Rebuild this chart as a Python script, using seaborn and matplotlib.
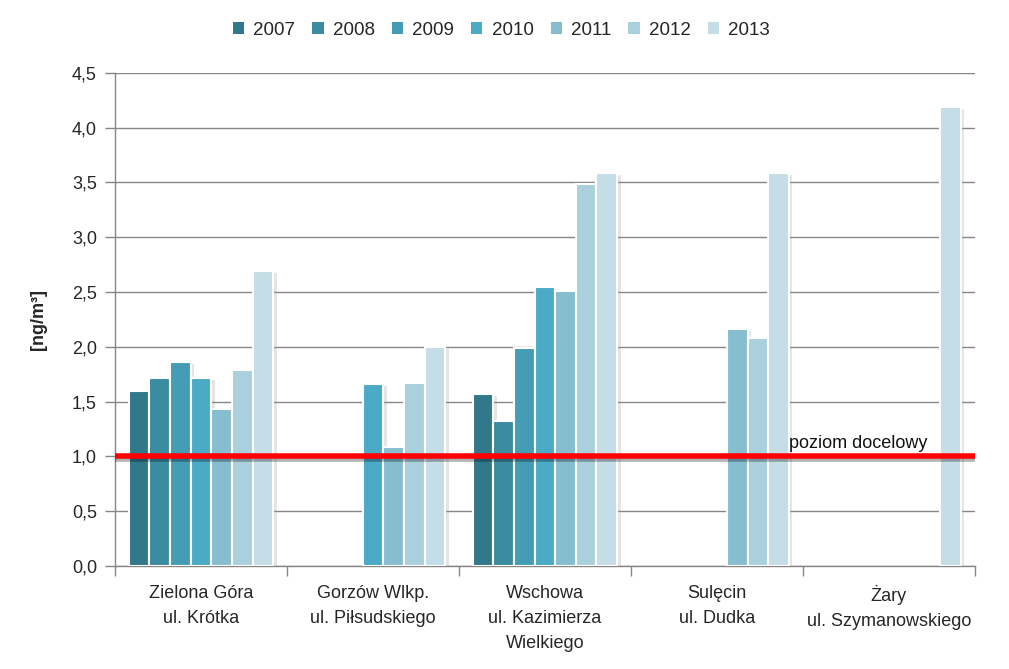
import matplotlib
matplotlib.use("Agg")
import matplotlib.pyplot as plt
import matplotlib.patheffects as pe
from matplotlib.patches import Patch
import seaborn as sns
import pandas as pd
import numpy as np

# stacje pomiarowe (etykiety osi X)
stations = [
    "Zielona Góra\nul. Krótka",
    "Gorzów Wlkp.\nul. Piłsudskiego",
    "Wschowa\nul. Kazimierza\nWielkiego",
    "Sulęcin\nul. Dudka",
    "Żary\nul. Szymanowskiego",
]
years = ["2007", "2008", "2009", "2010", "2011", "2012", "2013"]

# wartości [ng/m3] dla kolejnych lat, NaN = brak pomiaru
zielona_gora = [1.60, 1.72, 1.86, 1.72, 1.43, 1.79, 2.69]
gorzow = [np.nan, np.nan, np.nan, 1.66, 1.09, 1.67, 2.00]
wschowa = [1.57, 1.32, 1.99, 2.55, 2.51, 3.49, 3.59]
sulecin = [np.nan, np.nan, np.nan, np.nan, 2.16, 2.08, 3.59]
zary = [np.nan, np.nan, np.nan, np.nan, np.nan, np.nan, 4.19]

target_level = 1.0

colors = ["#31788A", "#3B8BA1", "#459DB5", "#4BABC6", "#86BED0", "#AACFDD", "#C5DDE6"]

rows = []
for st, vals in zip(stations, [zielona_gora, gorzow, wschowa, sulecin, zary]):
    for yr, v in zip(years, vals):
        rows.append({"station": st, "year": yr, "value": v})
df = pd.DataFrame(rows)

sns.set_style("white")
plt.rcParams["font.family"] = ["Liberation Sans", "DejaVu Sans"]

fig = plt.figure(figsize=(10.09, 6.69), dpi=100)
ax = fig.add_axes([0.114, 0.154, 0.852, 0.737])

sns.barplot(
    data=df, x="station", y="value", hue="year",
    order=stations, hue_order=years, palette=colors,
    width=0.84, saturation=1, edgecolor="white", linewidth=1.5,
    ax=ax, legend=False,
)
for p in ax.patches:
    p.set_path_effects([pe.SimplePatchShadow(offset=(2.5, -1.5), shadow_rgbFace="#999999", alpha=0.25),
                        pe.Normal()])
    p.set_zorder(3)

ax.axhline(target_level, color="#FF0000", lw=4, zorder=5,
           path_effects=[pe.SimpleLineShadow(offset=(1, -2), alpha=0.3), pe.Normal()])
ax.text(3.42, target_level + 0.04, "poziom docelowy", fontsize=13,
        ha="left", va="bottom", color="#111111", zorder=6)

ax.set_xlim(-0.5, 4.5)
ax.set_ylim(0, 4.5)
yt = np.arange(0, 4.51, 0.5)
ax.set_yticks(yt)
ax.set_yticklabels([f"{v:.1f}".replace(".", ",") for v in yt])
ax.yaxis.grid(True, color="#868686", lw=1)
ax.set_axisbelow(True)

ax.set_xticks(range(len(stations)))
ax.set_xticklabels(stations, fontsize=13, linespacing=1.6, va="top")
ax.set_xticks(np.arange(-0.5, 4.6, 1), minor=True)
ax.tick_params(axis="x", which="major", length=0, pad=14)
ax.tick_params(axis="x", which="minor", length=7, color="#868686", width=1, direction="out")
ax.tick_params(axis="y", length=7, color="#868686", width=1, direction="out",
               labelsize=13, pad=6)
ax.tick_params(axis="both", left=True, bottom=True, which="both")

for side in ["top", "right"]:
    ax.spines[side].set_visible(False)
for side in ["left", "bottom"]:
    ax.spines[side].set_color("#868686")
    ax.spines[side].set_linewidth(1)

ax.set_xlabel("")
ax.set_ylabel("[ng/m³]", fontsize=13, fontweight="bold", labelpad=18)

handles = [Patch(facecolor=c, edgecolor="none") for c in colors]
fig.legend(handles, years, loc="center", bbox_to_anchor=(0.497, 0.955), ncol=7,
           frameon=False, fontsize=13.5, handlelength=0.6, handleheight=0.6,
           handletextpad=0.5, columnspacing=0.9)

fig.savefig("out.png", dpi=100)
